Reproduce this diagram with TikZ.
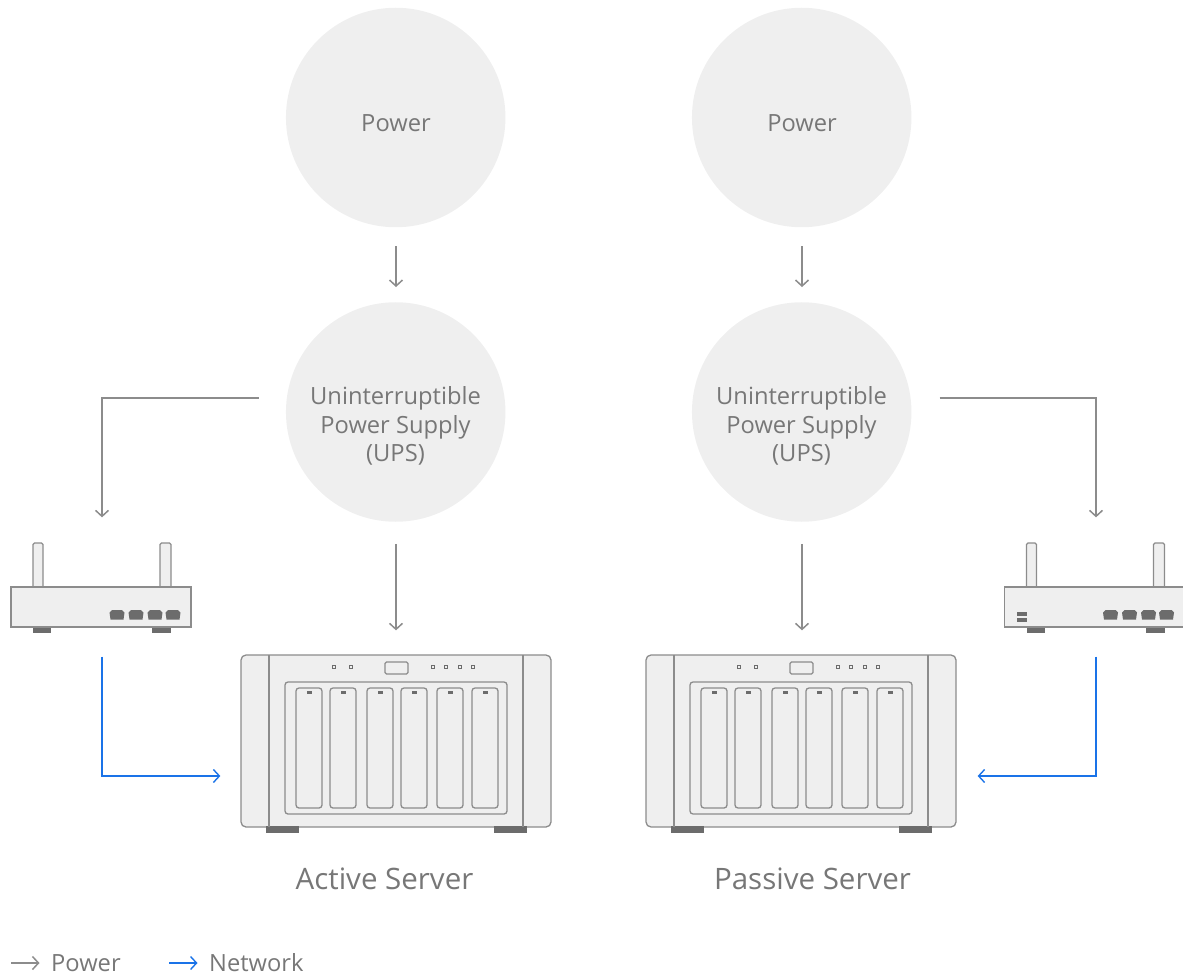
\documentclass[tikz,border=0pt]{standalone}
\usepackage{fontspec}
\setmainfont{Open Sans}
\usetikzlibrary{arrows.meta}

\definecolor{txtgray}{HTML}{777777}
\definecolor{boxfill}{HTML}{EFEFEF}
\definecolor{boxline}{HTML}{8C8C8C}
\definecolor{footgray}{HTML}{6C6C6C}
\definecolor{netblue}{HTML}{1A73E8}

\tikzset{
  bubble/.style={circle,fill=boxfill,minimum size=219.5pt,inner sep=0pt},
  bubbletxt/.style={text=txtgray,align=center,font=\fontsize{23.7}{28.5}\selectfont},
  part/.style={draw=boxline,fill=boxfill,line width=1.3pt},
  solidpart/.style={fill=footgray},
  powerline/.style={draw=boxline,line width=1.6pt,-{Straight Barb[length=6pt,width=13pt,line width=1.5pt]}},
  netline/.style={draw=netblue,line width=1.5pt,-{Straight Barb[length=6pt,width=13pt,line width=1.4pt]}},
  caption/.style={text=txtgray,inner sep=0pt,font=\fontsize{29.5}{34}\selectfont},
  legendtxt/.style={text=txtgray,inner sep=0pt,anchor=west,font=\fontsize{23.7}{28}\selectfont},
  pics/router/.style={code={
    \foreach \xa/\xb in {-68/-58,59/70}
      \draw[part,rounded corners=1.5pt] (\xa,-20) -- (\xa,-64) -- (\xb,-64) -- (\xb,-20);
    \node[part,minimum width=180pt,minimum height=40pt,inner sep=0pt] (-body) at (0,0) {};
    \foreach \xa/\xb in {-68/-50,51/70}
      \fill[solidpart] (\xa,20.5) rectangle (\xb,25.5);
    \foreach \xc in {16,35,54,72}
      \fill[solidpart] (\xc-7.5,5.5) -- (\xc-5,3) -- (\xc+5,3) -- (\xc+7.5,5.5) -- (\xc+6.5,12.5) -- (\xc-6.5,12.5) -- cycle;
  }},
  pics/server/.style={code={
    \node[part,rounded corners=5pt,minimum width=310pt,minimum height=172pt,inner sep=0pt] (-body) at (0,0) {};
    \fill[solidpart] (-130,85) rectangle (-97,92);
    \fill[solidpart] (98,85) rectangle (131,92);
    \draw[part] (-127,-86) -- (-127,86);
    \draw[part] (127,-86) -- (127,86);
    \draw[part,rounded corners=3pt] (-111,-59) rectangle (111,73);
    \foreach \xa in {-100,-66,-29,5,41,76} {
      \draw[part,rounded corners=3pt] (\xa,-53) rectangle (\xa+26,67);
      \fill[solidpart] (\xa+10.5,-50) rectangle (\xa+15.5,-47);
    }
    \foreach \xa in {-62,-45,37,50,64,77}
      \draw[part,draw=footgray,line width=1.1pt] (\xa-1.8,-75.8) rectangle (\xa+1.8,-72.2);
    \draw[part,rounded corners=1.5pt] (-11,-79) rectangle (12,-67);
  }}
}

\begin{document}
\begin{tikzpicture}[x=1pt,y=-1pt]
  \useasboundingbox (0,0) rectangle (1183,976);

  % left side
  \node[bubble] (powa) at (395.7,117.5) {};
  \node[bubbletxt] (powatxt) at (396,123) {Power};
  \node[bubble] (upsa) at (395.7,412) {};
  \node[bubbletxt] (upsatxt) at (395.5,426) {Uninterruptible\\Power Supply\\(UPS)};
  \pic (rtra) at (101,607) {router};
  \pic (srva) at (396,741) {server};
  \node[caption] (capa) at (384.5,879) {Active Server};

  % right side
  \node[bubble] (powb) at (801.7,117.5) {};
  \node[bubbletxt] (powbtxt) at (802,123) {Power};
  \node[bubble] (upsb) at (801.7,412) {};
  \node[bubbletxt] (upsbtxt) at (801.5,426) {Uninterruptible\\Power Supply\\(UPS)};
  \pic (rtrb) at (1094.5,607) {router};
  \fill[solidpart] (1017,612) rectangle (1027,616);
  \fill[solidpart] (1017,618) rectangle (1027,621.5);
  \pic (srvb) at (801,741) {server};
  \node[caption] (capb) at (812.5,879) {Passive Server};

  % power
  \draw[powerline,shorten <=19pt,shorten >=15pt] ([xshift=.3pt]powa.south) -- ([xshift=.3pt]upsa.north);
  \draw[powerline,shorten <=19pt,shorten >=15pt] ([xshift=.3pt]powb.south) -- ([xshift=.3pt]upsb.north);
  \draw[powerline,shorten <=22pt,shorten >=24pt] ([xshift=.3pt]upsa.south) -- (srva-body.north);
  \draw[powerline,shorten <=22pt,shorten >=24pt] ([xshift=.3pt]upsb.south) -- ([xshift=1pt]srvb-body.north);
  \draw[powerline,shorten <=27pt,shorten >=69pt] ([yshift=14pt]upsa.west) -| ([xshift=1pt]rtra-body.north);
  \draw[powerline,shorten <=28pt,shorten >=69pt] ([yshift=14pt]upsb.east) -| ([xshift=1.5pt]rtrb-body.north);

  % network
  \draw[netline,shorten <=29pt,shorten >=20pt] ([xshift=1pt]rtra-body.south) |- ([yshift=-35pt]srva-body.west);
  \draw[netline,shorten <=29pt,shorten >=21pt] ([xshift=1.5pt]rtrb-body.south) |- ([yshift=-35pt]srvb-body.east);

  % legend
  \coordinate (lgpa) at (11,963);
  \node[legendtxt] (lgpb) at (51,963) {Power};
  \draw[powerline,shorten >=11.5pt] (lgpa) -- (lgpb.west);
  \coordinate (lgna) at (169,963);
  \node[legendtxt] (lgnb) at (209,963) {Network};
  \draw[netline,shorten >=11.5pt] (lgna) -- (lgnb.west);
\end{tikzpicture}
\end{document}
